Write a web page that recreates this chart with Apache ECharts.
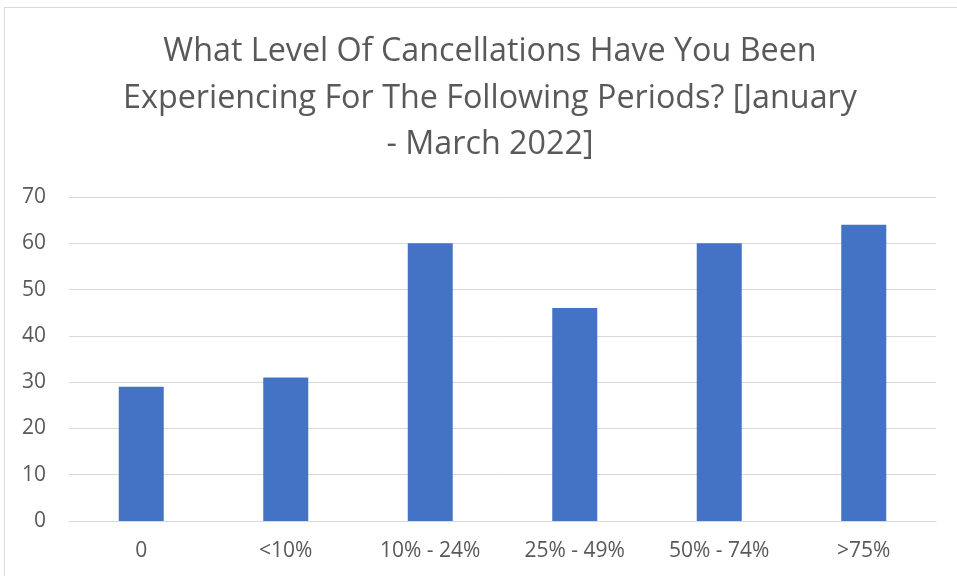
<!DOCTYPE html>
<html>
<head>
<meta charset="utf-8">
<script src="https://cdn.jsdelivr.net/npm/echarts@6/dist/echarts.min.js"></script>
<style>html,body{margin:0;padding:0;background:#fff}#c{width:957px;height:576px}</style>
</head>
<body>
<div id="c"></div>
<script>
const titleText = "What Level Of Cancellations Have You Been\nExperiencing For The Following Periods? [January\n- March 2022]";
const categories = ["0", "<10%", "10% - 24%", "25% - 49%", "50% - 74%", ">75%"];
const values = [29, 31, 60, 46, 60, 64];
const yTicks = { min: 0, max: 70, interval: 10 };

const chart = echarts.init(document.getElementById('c'), null, { renderer: 'canvas' });
const font = '"Open Sans", sans-serif';
chart.setOption({
  animation: false,
  graphic: [{
    type: 'rect', shape: { x: 4.5, y: 7.5, width: 1000, height: 1000 },
    style: { fill: 'none', stroke: '#d9d9d9', lineWidth: 1 }, silent: true
  }],
  title: {
    text: titleText, left: 485, top: 24, textAlign: 'center',
    textStyle: { fontFamily: font, fontSize: 32.3, fontWeight: 'normal', color: '#595959', lineHeight: 46.5 }
  },
  grid: { left: 69, right: 21, top: 197, bottom: 55, containLabel: false },
  xAxis: {
    type: 'category', data: categories,
    axisLine: { lineStyle: { color: '#d9d9d9', width: 1 } },
    axisTick: { show: false },
    axisLabel: { fontFamily: font, fontSize: 21, color: '#595959', margin: 20 }
  },
  yAxis: {
    type: 'value', min: yTicks.min, max: yTicks.max, interval: yTicks.interval,
    axisLine: { show: false }, axisTick: { show: false },
    splitLine: { lineStyle: { color: '#d9d9d9', width: 1 } },
    axisLabel: { fontFamily: font, fontSize: 21, color: '#595959', margin: 23 }
  },
  series: [{
    type: 'bar', data: values, barWidth: 45,
    itemStyle: { color: '#4472c4' }
  }]
});
</script>
</body>
</html>
